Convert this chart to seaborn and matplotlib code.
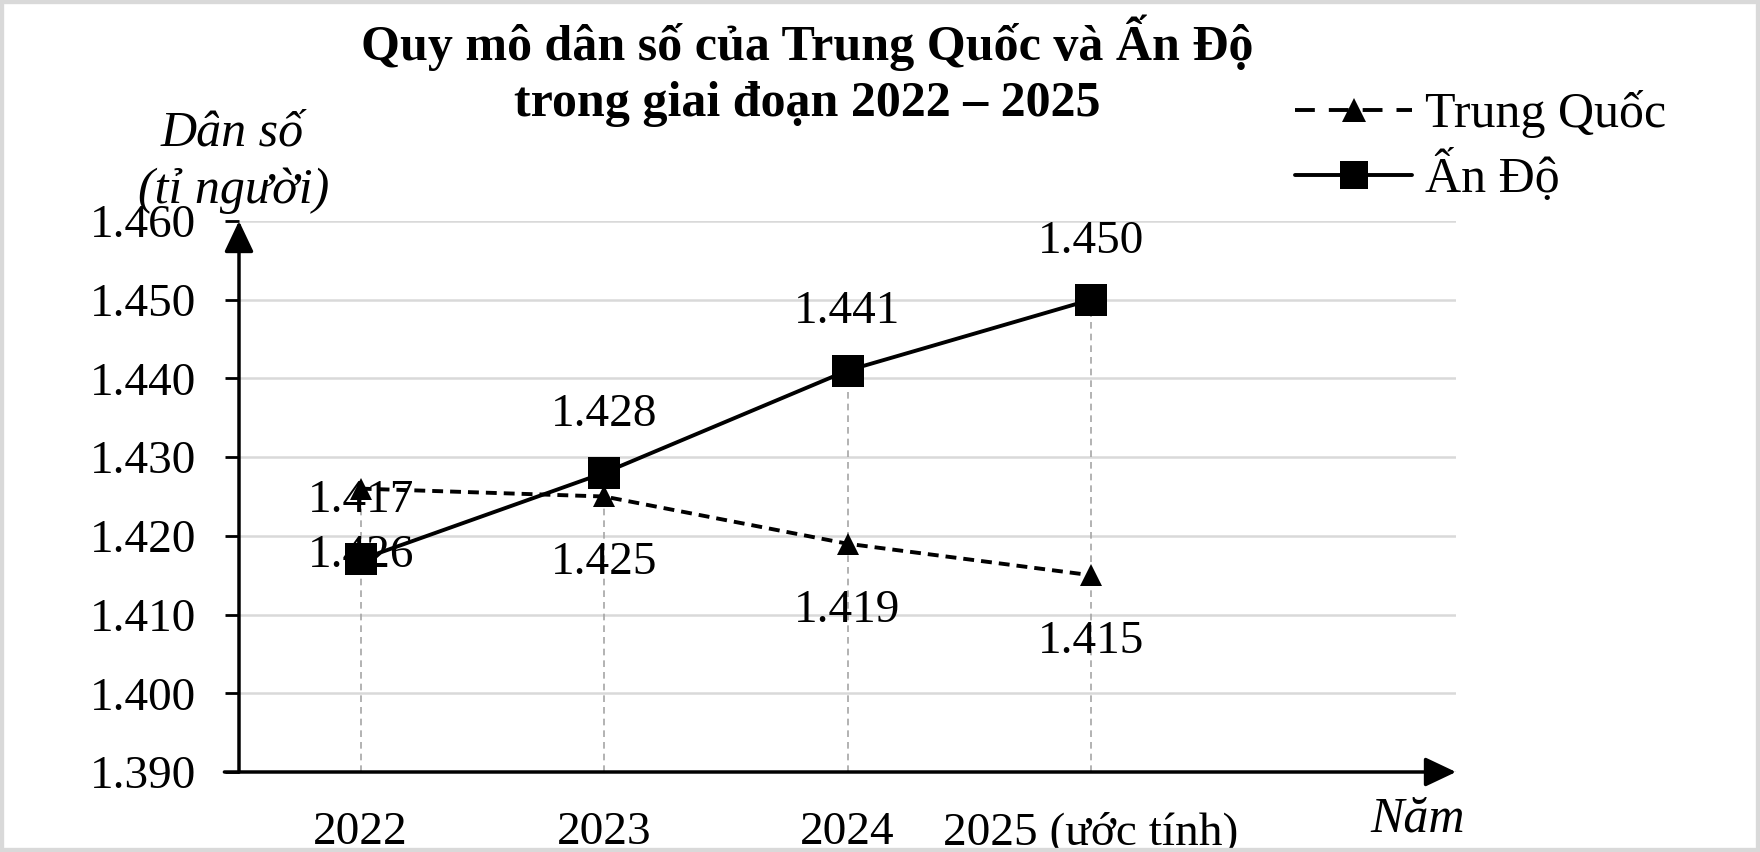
import numpy as np
import pandas as pd
import matplotlib.pyplot as plt
import seaborn as sns
from matplotlib.lines import Line2D
from matplotlib.patches import Rectangle

# du lieu doc tu hinh
years = ['2022', '2023', '2024', '2025 (ước tính)']
trung_quoc = [1.426, 1.425, 1.419, 1.415]
an_do = [1.417, 1.428, 1.441, 1.450]
y_ticks = [1.390, 1.400, 1.410, 1.420, 1.430, 1.440, 1.450, 1.460]
series_names = ['Trung Quốc', 'Ấn Độ']
title_lines = ['Quy mô dân số của Trung Quốc và Ấn Độ', 'trong giai đoạn 2022 – 2025']

sns.set_theme(style='white')
plt.rcParams['font.family'] = ['Liberation Serif', 'DejaVu Serif']
plt.rcParams['text.color'] = 'black'

W, H = 1760, 852
fig = plt.figure(figsize=(W / 100, H / 100), dpi=100, facecolor='white')
ax = fig.add_axes([239 / W, 1 - 772 / H, (1456 - 239) / W, (772 - 221) / H])

pos = np.arange(len(years))
df = pd.DataFrame({'pos': pos, 'tq': trung_quoc, 'ad': an_do})

# duong gong doc tu diem xuong truc x
ax.vlines(df['pos'], y_ticks[0], df[['tq', 'ad']].max(axis=1), colors='#a6a6a6',
          linestyles=(0, (4, 3)), lw=1.2, zorder=1)

sns.lineplot(data=df, x='pos', y='tq', ax=ax, color='black', lw=2.8, marker='^',
             markersize=16, markeredgewidth=0, linestyle=(0, (2.8, 1.8)), zorder=3)
sns.lineplot(data=df, x='pos', y='ad', ax=ax, color='black', lw=2.8, marker='s',
             markersize=23, markeredgewidth=0, zorder=4)

for i, v in enumerate(an_do):
    ax.annotate(f'{v:.3f}', (i, v), xytext=(0, 42), textcoords='offset points',
                ha='center', va='center', fontsize=34, zorder=5)
for i, v in enumerate(trung_quoc):
    ax.annotate(f'{v:.3f}', (i, v), xytext=(0, -48), textcoords='offset points',
                ha='center', va='center', fontsize=34, zorder=5)

ax.set_xlim(-0.5, 4.5)
ax.set_ylim(y_ticks[0], y_ticks[-1])
ax.set_yticks(y_ticks, [f'{t:.3f}' for t in y_ticks])
ax.set_xticks(pos, years)
ax.set_xlabel('')
ax.set_ylabel('')
ax.yaxis.grid(True, color='#d9d9d9', lw=1.8)
ax.set_axisbelow(True)
ax.tick_params(axis='y', length=10, width=2, color='black', labelsize=34, pad=21,
               labelcolor='black', left=True)
ax.tick_params(axis='x', length=0, labelsize=34, pad=52, labelcolor='black')
for lbl in ax.get_xticklabels():
    lbl.set_va('baseline')
for s in ax.spines.values():
    s.set_visible(False)

# truc co mui ten
arrow = dict(arrowstyle='-|>,head_length=0.95,head_width=0.45', lw=2.5, color='black',
             shrinkA=0, shrinkB=0, mutation_scale=20)
ax.annotate('', xy=(0, 1), xytext=(0, 0), xycoords='axes fraction', arrowprops=arrow,
            annotation_clip=False)
ax.annotate('', xy=(1, 0), xytext=(-0.012, 0), xycoords='axes fraction', arrowprops=arrow,
            annotation_clip=False)

for k, line in enumerate(title_lines):
    fig.text(807 / W, 1 - (60 + 56 * k) / H, line, ha='center', va='baseline',
             fontsize=36, fontweight='bold')
fig.text(232 / W, 1 - 145 / H, 'Dân số', ha='center', va='baseline', fontsize=36, style='italic')
fig.text(234 / W, 1 - 203 / H, '(tỉ người)', ha='center', va='baseline', fontsize=36, style='italic')
fig.text(1418 / W, 1 - 832 / H, 'Năm', ha='center', va='baseline', fontsize=36, style='italic')

handles = [
    Line2D([], [], color='black', lw=2.8, linestyle=(0, (5.1, 3.6)), marker='^',
           markersize=17, markeredgewidth=0),
    Line2D([], [], color='black', lw=2.8, marker='s', markersize=19.5, markeredgewidth=0),
]
fig.legend(handles, series_names, loc='center left', bbox_to_anchor=(1295 / W, 1 - 147 / H),
           bbox_transform=fig.transFigure, frameon=False, fontsize=36, borderpad=0,
           borderaxespad=0, handlelength=2.34, handletextpad=0.26, labelspacing=0.24)

fig.patches.append(Rectangle((0, 0), 1, 1, transform=fig.transFigure, fill=False,
                             edgecolor='#d9d9d9', lw=6))

fig.savefig('out.png', dpi=100)
